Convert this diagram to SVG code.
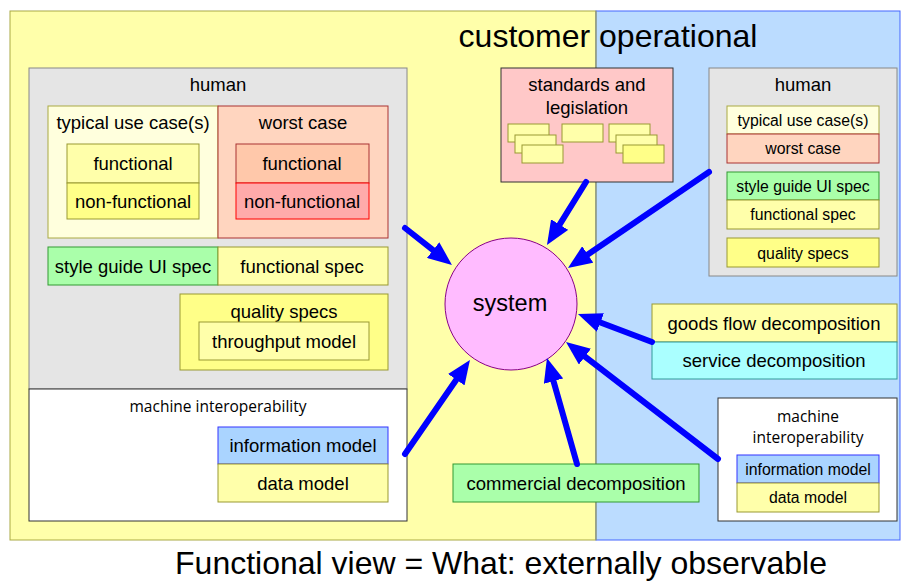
<svg xmlns="http://www.w3.org/2000/svg" width="901" height="581" viewBox="0 0 901 581">
<defs>
<style>
text{font-family:"Liberation Sans",Arial,sans-serif;fill:#000;text-anchor:middle;dominant-baseline:central}
.t17{font-size:18.5px}
.t15{font-size:15.8px}
.os{font-family:"Open Sans","Noto Sans",sans-serif;font-size:15.5px}
.yel{fill:#ffffaa;stroke:#999933;stroke-width:1}
.conn line{stroke:#0000ff;stroke-width:6;stroke-linecap:round;marker-end:url(#ah)}
</style>
<marker id="ah" markerUnits="userSpaceOnUse" viewBox="0 -10 24 20" markerWidth="24" markerHeight="20" refX="0" refY="0" orient="auto">
<path d="M0,-10 L24,0 L0,10 z" fill="#0000ff"/>
</marker>
</defs>
<rect width="901" height="581" fill="#ffffff"/>
<g id="customer-panel">
<rect x="10" y="11" width="586" height="529" fill="#ffffaa" stroke="#aaaa44"/>
</g>
<g id="operational-panel">
<rect x="596" y="11" width="304" height="529" fill="#bbdcff" stroke="#4466ff"/>
<line x1="596" y1="11" x2="596" y2="540" stroke="#aaaa44"/>
</g>
<text x="608" y="36" style="font-size:32px">customer operational</text>
<g id="human-left">
<rect x="29" y="68" width="378" height="321" fill="#e5e5e5" stroke="#888888"/>
<text class="t17" x="218" y="84">human</text>
</g>
<g id="typical-left">
<rect x="48" y="106" width="170" height="132" fill="#ffffdd" stroke="#aaaa44"/>
<text class="t17" x="133" y="122">typical use case(s)</text>
<rect x="67" y="144" width="132" height="39" class="yel"/>
<text class="t17" x="133" y="163">functional</text>
<rect x="67" y="183" width="132" height="36" fill="#ffff88" stroke="#999933"/>
<text class="t17" x="133" y="201">non-functional</text>
</g>
<g id="worst-left">
<rect x="218" y="106" width="170" height="132" fill="#ffd5bf" stroke="#aa3333"/>
<text class="t17" x="303" y="122">worst case</text>
<rect x="236" y="144" width="133" height="39" fill="#ffc8aa" stroke="#aa3333"/>
<text class="t17" x="302" y="163">functional</text>
<rect x="236" y="183" width="133" height="36" fill="#ffaaaa" stroke="#ff0000"/>
<text class="t17" x="302" y="201">non-functional</text>
</g>
<g id="styleguide-left">
<rect x="48" y="247" width="170" height="38" fill="#aaffaa" stroke="#339933"/>
<text class="t17" x="133" y="266">style guide UI spec</text>
</g>
<g id="funcspec-left">
<rect x="218" y="247" width="170" height="38" class="yel"/>
<text class="t17" x="302" y="266">functional spec</text>
</g>
<g id="quality-left">
<rect x="180" y="294" width="208" height="76" fill="#ffff88" stroke="#999933"/>
<text class="t17" x="284" y="311">quality specs</text>
<rect x="199" y="322" width="170" height="38" class="yel"/>
<text class="t17" x="284" y="341">throughput model</text>
</g>
<g id="machine-left">
<rect x="29" y="389" width="378" height="132" fill="#ffffff" stroke="#333333"/>
<text class="os" x="218" y="406">machine interoperability</text>
<rect x="218" y="427" width="170" height="37" fill="#aad4ff" stroke="#3333ff"/>
<text class="t17" x="303" y="445">information model</text>
<rect x="218" y="464" width="170" height="38" class="yel"/>
<text class="t17" x="303" y="483">data model</text>
</g>
<g id="standards">
<rect x="501" y="68" width="172" height="114" fill="#ffc8c8" stroke="#333333"/>
<text class="t17" x="587" y="84">standards and</text>
<text class="t17" x="587" y="107">legislation</text>
<rect x="508" y="124" width="41" height="18" class="yel"/>
<rect x="515" y="135" width="41" height="18" class="yel"/>
<rect x="522" y="145" width="41" height="18" class="yel"/>
<rect x="562" y="124" width="41" height="18" class="yel"/>
<rect x="609" y="124" width="41" height="18" class="yel"/>
<rect x="616" y="135" width="41" height="18" class="yel"/>
<rect x="623" y="145" width="41" height="18" fill="#ffff88" stroke="#999933"/>
</g>
<g id="human-right">
<rect x="709" y="68" width="188" height="208" fill="#e5e5e5" stroke="#888888"/>
<text class="t17" x="803" y="84">human</text>
<rect x="727" y="106" width="152" height="28" fill="#ffffdd" stroke="#aaaa44"/>
<text class="t15" x="803" y="120">typical use case(s)</text>
<rect x="727" y="134" width="152" height="29" fill="#ffd5bf" stroke="#aa3333"/>
<text class="t15" x="803" y="148">worst case</text>
<rect x="727" y="172" width="152" height="28" fill="#aaffaa" stroke="#339933"/>
<text class="t15" x="803" y="186">style guide UI spec</text>
<rect x="727" y="200" width="152" height="29" class="yel"/>
<text class="t15" x="803" y="214">functional spec</text>
<rect x="727" y="238" width="152" height="29" fill="#ffff88" stroke="#999933"/>
<text class="t15" x="803" y="253">quality specs</text>
</g>
<g id="system">
<circle cx="511" cy="304" r="66" fill="#ffbbff" stroke="#880088"/>
<text x="510" y="303" style="font-size:23.5px">system</text>
</g>
<g id="goods-flow">
<rect x="652" y="304" width="245" height="38" class="yel"/>
<text class="t17" x="774" y="323">goods flow decomposition</text>
</g>
<g id="service">
<rect x="652" y="342" width="245" height="37" fill="#aaffff" stroke="#339999"/>
<text class="t17" x="774" y="360">service decomposition</text>
</g>
<g id="machine-right">
<rect x="718" y="398" width="179" height="123" fill="#ffffff" stroke="#333333"/>
<text class="os" x="808" y="416">machine</text>
<text class="os" x="808" y="437">interoperability</text>
<rect x="737" y="455" width="142" height="28" fill="#aad4ff" stroke="#3333ff"/>
<text class="t15" x="808" y="469">information model</text>
<rect x="737" y="483" width="142" height="29" class="yel"/>
<text class="t15" x="808" y="497">data model</text>
</g>
<g id="commercial">
<rect x="453" y="464" width="246" height="38" fill="#aaffaa" stroke="#339933"/>
<text class="t17" x="576" y="483">commercial decomposition</text>
</g>
<g id="connectors" class="conn">
<line x1="405" y1="228" x2="433.1" y2="250.1"/>
<line x1="586" y1="182" x2="559.6" y2="224.6"/>
<line x1="709" y1="172" x2="587.8" y2="254.5"/>
<line x1="652" y1="342" x2="600.4" y2="322.5"/>
<line x1="718" y1="459" x2="585" y2="356.6"/>
<line x1="577" y1="464" x2="553.5" y2="381.1"/>
<line x1="405" y1="454" x2="456.3" y2="379.7"/>
</g>
<text x="501" y="563" style="font-size:32px">Functional view = What: externally observable</text>
</svg>
